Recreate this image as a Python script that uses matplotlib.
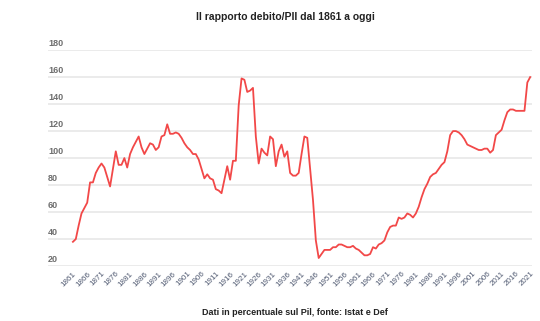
import matplotlib
matplotlib.use('Agg')
import matplotlib.pyplot as plt
import matplotlib.transforms as mtransforms

plt.rcParams['font.family'] = ['Liberation Sans', 'DejaVu Sans']

# debt/GDP ratio, one value per year 1861-2021
years = list(range(1861, 2022))
ratio = [
    38, 40, 50, 59, 63, 67, 82, 82, 89, 93,            # 1861-1870
    96, 93, 86, 79, 92, 105, 95, 95, 100, 93,          # 1871-1880
    103, 108, 112, 116, 108, 103, 107, 111, 110, 106,  # 1881-1890
    108, 116, 117, 125, 118, 118, 119, 118, 115, 111,  # 1891-1900
    108, 106, 103, 103, 99, 92, 85, 88, 85, 84,        # 1901-1910
    77, 76, 74, 84, 94, 84, 98, 98, 139, 159,          # 1911-1920
    158, 149, 150, 152, 116, 96, 107, 104, 102, 116,   # 1921-1930
    114, 94, 105, 110, 101, 105, 89, 87, 87, 89,       # 1931-1940
    103, 116, 115, 92, 69, 39, 26, 29, 32, 32,         # 1941-1950
    32, 34, 34, 36, 36, 35, 34, 34, 35, 33,            # 1951-1960
    32, 30, 28, 28, 29, 34, 33, 36, 37, 39,            # 1961-1970
    45, 49, 50, 50, 56, 55, 56, 59, 58, 56,            # 1971-1980
    59, 64, 71, 77, 81, 86, 88, 89, 92, 95,            # 1981-1990
    97, 105, 117, 120, 120, 119, 117, 114, 110, 109,   # 1991-2000
    108, 107, 106, 106, 107, 107, 104, 106, 117, 119,  # 2001-2010
    121, 128, 134, 136, 136, 135, 135, 135, 135, 156,  # 2011-2020
    160,                                               # 2021
]
y_ticks = [20, 40, 60, 80, 100, 120, 140, 160, 180]
x_ticks = list(range(1861, 2022, 5))

fig = plt.figure(figsize=(5.4, 3.21), dpi=100)
fig.patch.set_facecolor('white')
ax = fig.add_axes([0.089, 0.171, 0.896, 0.673])

ax.plot(years, ratio, color='#f24848', lw=1.3, solid_joinstyle='round', zorder=3)

ax.set_xlim(1852.3, 2021.6)
ax.set_ylim(20, 180)

# horizontal grid, labels sitting on top of each line at the left
ax.set_yticks(y_ticks)
ax.yaxis.grid(True, color='#e6e6e6', lw=1.1)
ax.tick_params(axis='y', length=0, labelleft=False)
trans = mtransforms.blended_transform_factory(ax.transAxes, ax.transData)
for v in y_ticks:
    ax.text(0.0, v + 1.5, str(v), transform=trans, ha='left', va='bottom',
            fontsize=6.5, fontweight='bold', color='#6e6e6e')

ax.set_xticks(x_ticks)
ax.set_xticklabels([str(x) for x in x_ticks], rotation=45, ha='right',
                   rotation_mode='anchor', fontsize=5.8, color='#4e5870')
ax.tick_params(axis='x', length=0, pad=3)

for s in ax.spines.values():
    s.set_visible(False)
ax.set_axisbelow(True)

fig.text(0.528, 0.947, 'Il rapporto debito/PIl dal 1861 a oggi',
         ha='center', va='center', fontsize=7.5, fontweight='bold', color='#222222')
fig.text(0.546, 0.028, 'Dati in percentuale sul Pil, fonte: Istat e Def',
         ha='center', va='center', fontsize=6.5, fontweight='bold', color='#222222')

fig.savefig('out.png', dpi=100, facecolor='white')
